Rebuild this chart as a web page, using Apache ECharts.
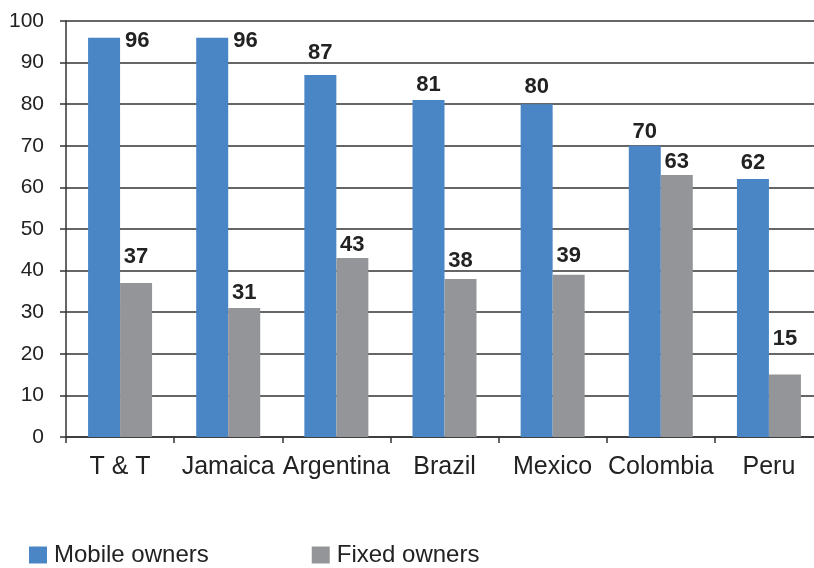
<!DOCTYPE html>
<html>
<head>
<meta charset="utf-8">
<script src="https://cdn.jsdelivr.net/npm/echarts@6/dist/echarts.min.js"></script>
<style>
html,body{margin:0;padding:0;background:#fff;}
#chart{width:814px;height:568px;}
</style>
</head>
<body>
<div id="chart"></div>
<script>
var categories = ['T & T', 'Jamaica', 'Argentina', 'Brazil', 'Mexico', 'Colombia', 'Peru'];
var mobileOwners = [96, 96, 87, 81, 80, 70, 62];
var fixedOwners = [37, 31, 43, 38, 39, 63, 15];
var yTicks = [0, 10, 20, 30, 40, 50, 60, 70, 80, 90, 100];

// label gaps (styling only, separate from data)
var mobileLabelGap = [0, 0, 11, 4, 6, 3, 5];
var fixedLabelGap = [15, 4, 2, 7, 8, 2, 25];

var FONT = '"Liberation Sans", Arial, sans-serif';
var labelBase = {show: true, color: '#222', fontFamily: FONT, fontWeight: 'bold', fontSize: 22};

function buildData(values, gaps, sideTop) {
  return values.map(function (v, i) {
    if (sideTop && v >= 95) {
      return {value: v, label: {position: ['100%', 0], offset: [5, -8]}};
    }
    return {value: v, label: {position: 'top', distance: gaps[i]}};
  });
}

var chart = echarts.init(document.getElementById('chart'), null, {renderer: 'canvas'});
chart.setOption({
  animation: false,
  backgroundColor: '#fff',
  grid: {left: 66, width: 757, top: 21, bottom: 131, containLabel: false, outerBoundsMode: 'none'},
  legend: {
    left: 29, top: 543, padding: 0,
    itemWidth: 18, itemHeight: 17, itemGap: 103,
    icon: 'rect',
    textStyle: {fontFamily: FONT, fontSize: 24, color: '#222', padding: [0, 0, 0, 2]},
    data: ['Mobile owners', 'Fixed owners']
  },
  xAxis: {
    type: 'category',
    data: categories,
    axisLine: {lineStyle: {color: '#333', width: 1.5}},
    axisTick: {show: true, length: 6, alignWithLabel: false, lineStyle: {color: '#333', width: 1.5}},
    axisLabel: {interval: 0, margin: 18, fontFamily: FONT, fontSize: 25, color: '#222'}
  },
  yAxis: {
    type: 'value',
    min: yTicks[0], max: yTicks[yTicks.length - 1], interval: yTicks[1] - yTicks[0],
    axisLine: {show: true, lineStyle: {color: '#333', width: 1.5}},
    axisTick: {show: true, length: 6, lineStyle: {color: '#333', width: 1.5}},
    splitLine: {show: true, lineStyle: {color: '#333', width: 1.5}},
    axisLabel: {margin: 22, fontFamily: FONT, fontSize: 21, color: '#222'}
  },
  series: [
    {
      name: 'Mobile owners', type: 'bar', barWidth: 32, barGap: '0%',
      itemStyle: {color: '#4a86c6'},
      label: labelBase,
      data: buildData(mobileOwners, mobileLabelGap, true)
    },
    {
      name: 'Fixed owners', type: 'bar', barWidth: 32, barGap: '0%',
      itemStyle: {color: '#939598'},
      label: labelBase,
      data: buildData(fixedOwners, fixedLabelGap, false)
    }
  ]
});
</script>
</body>
</html>
